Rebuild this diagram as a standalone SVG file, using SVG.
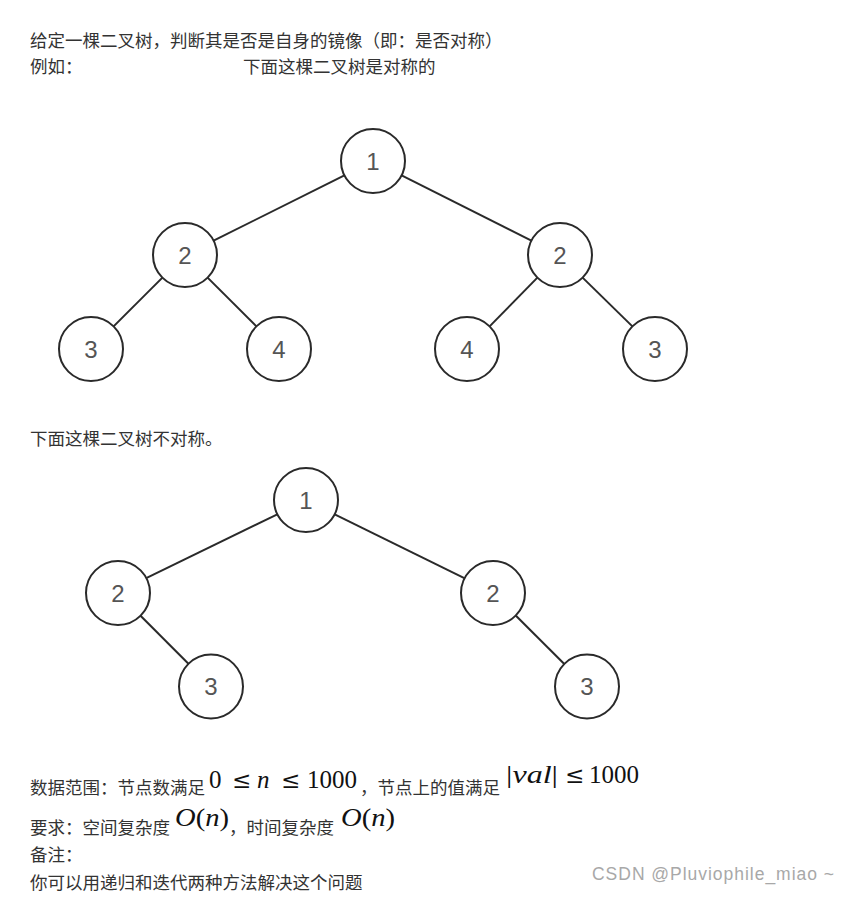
<svg xmlns="http://www.w3.org/2000/svg" width="844" height="897" viewBox="0 0 844 897">
<style>
.t{font-family:"Microsoft YaHei","Noto Sans CJK SC","Noto Sans",sans-serif;font-size:17.5px;fill:#333}
.m{font-family:"Liberation Serif","DejaVu Serif",serif;font-size:25px;fill:#111}
.le{font-family:"DejaVu Serif",serif;font-size:23px;fill:#111}
.i{font-style:italic}
.node circle{fill:#fff;stroke:#2a2a2a;stroke-width:2}
.node text{font-family:"Liberation Sans",Arial,sans-serif;font-size:24px;fill:#555;text-anchor:middle}
.edges line{stroke:#2a2a2a;stroke-width:2}
.wm{font-family:"Liberation Sans",Arial,sans-serif;font-size:17.5px;fill:#a8a8a8}
</style>
<rect width="844" height="897" fill="#fff"/>
<text class="t" x="30" y="47">给定一棵二叉树，判断其是否是自身的镜像（即：是否对称）</text>
<text class="t" x="30" y="73">例如：</text>
<text class="t" x="243" y="73">下面这棵二叉树是对称的</text>
<g class="edges" id="edges1">
<line x1="344.4" y1="175.3" x2="213.6" y2="240.7"/>
<line x1="401.6" y1="175.3" x2="531.4" y2="240.7"/>
<line x1="162.4" y1="277.6" x2="113.6" y2="326.4"/>
<line x1="207.6" y1="277.6" x2="256.4" y2="326.4"/>
<line x1="537.4" y1="277.6" x2="489.6" y2="326.4"/>
<line x1="582.6" y1="277.6" x2="632.4" y2="326.4"/>
</g>
<g class="node" id="t1n1"><circle cx="373" cy="161" r="32"/><text x="373" y="169.5">1</text></g>
<g class="node" id="t1n2a"><circle cx="185" cy="255" r="32"/><text x="185" y="263.5">2</text></g>
<g class="node" id="t1n2b"><circle cx="560" cy="255" r="32"/><text x="560" y="263.5">2</text></g>
<g class="node" id="t1n3a"><circle cx="91" cy="349" r="32"/><text x="91" y="357.5">3</text></g>
<g class="node" id="t1n4a"><circle cx="279" cy="349" r="32"/><text x="279" y="357.5">4</text></g>
<g class="node" id="t1n4b"><circle cx="467" cy="349" r="32"/><text x="467" y="357.5">4</text></g>
<g class="node" id="t1n3b"><circle cx="655" cy="349" r="32"/><text x="655" y="357.5">3</text></g>
<text class="t" x="30" y="445">下面这棵二叉树不对称。</text>
<g class="edges" id="edges2">
<line x1="277.3" y1="514.3" x2="146.2" y2="578.2"/>
<line x1="334.7" y1="514.3" x2="464.3" y2="578.2"/>
<line x1="140.3" y1="615.5" x2="188.7" y2="664"/>
<line x1="515.7" y1="615.5" x2="564.3" y2="664"/>
</g>
<g class="node" id="t2n1"><circle cx="306" cy="500" r="32"/><text x="306" y="508.5">1</text></g>
<g class="node" id="t2n2a"><circle cx="118" cy="593" r="32"/><text x="118" y="601.5">2</text></g>
<g class="node" id="t2n2b"><circle cx="493" cy="593" r="32"/><text x="493" y="601.5">2</text></g>
<g class="node" id="t2n3a"><circle cx="211" cy="686.5" r="32"/><text x="211" y="695">3</text></g>
<g class="node" id="t2n3b"><circle cx="587" cy="686.5" r="32"/><text x="587" y="695">3</text></g>
<text class="t" x="30" y="794">数据范围：节点数满足</text>
<text class="m" x="209" y="788">0</text>
<text class="le" x="232" y="788">≤</text>
<text class="m i" x="257" y="788">n</text>
<text class="le" x="281" y="788">≤</text>
<text class="m" x="307" y="788">1000</text>
<text class="t" x="360" y="794">，节点上的值满足</text>
<text class="m" x="506" y="783" textLength="52" lengthAdjust="spacingAndGlyphs">|<tspan class="i">val</tspan>|</text>
<text class="le" x="565" y="783">≤</text>
<text class="m" x="589" y="783">1000</text>
<text class="t" x="30" y="834">要求：空间复杂度</text>
<text class="m" x="175" y="826" textLength="54" lengthAdjust="spacingAndGlyphs"><tspan class="i">O</tspan>(<tspan class="i">n</tspan>)</text>
<text class="t" x="229" y="834">，时间复杂度</text>
<text class="m" x="341" y="826" textLength="54" lengthAdjust="spacingAndGlyphs"><tspan class="i">O</tspan>(<tspan class="i">n</tspan>)</text>
<text class="t" x="30" y="861">备注：</text>
<text class="t" x="30" y="889">你可以用递归和迭代两种方法解决这个问题</text>
<text class="wm" x="592" y="880" textLength="242" lengthAdjust="spacing">CSDN @Pluviophile_miao ~</text>
</svg>
